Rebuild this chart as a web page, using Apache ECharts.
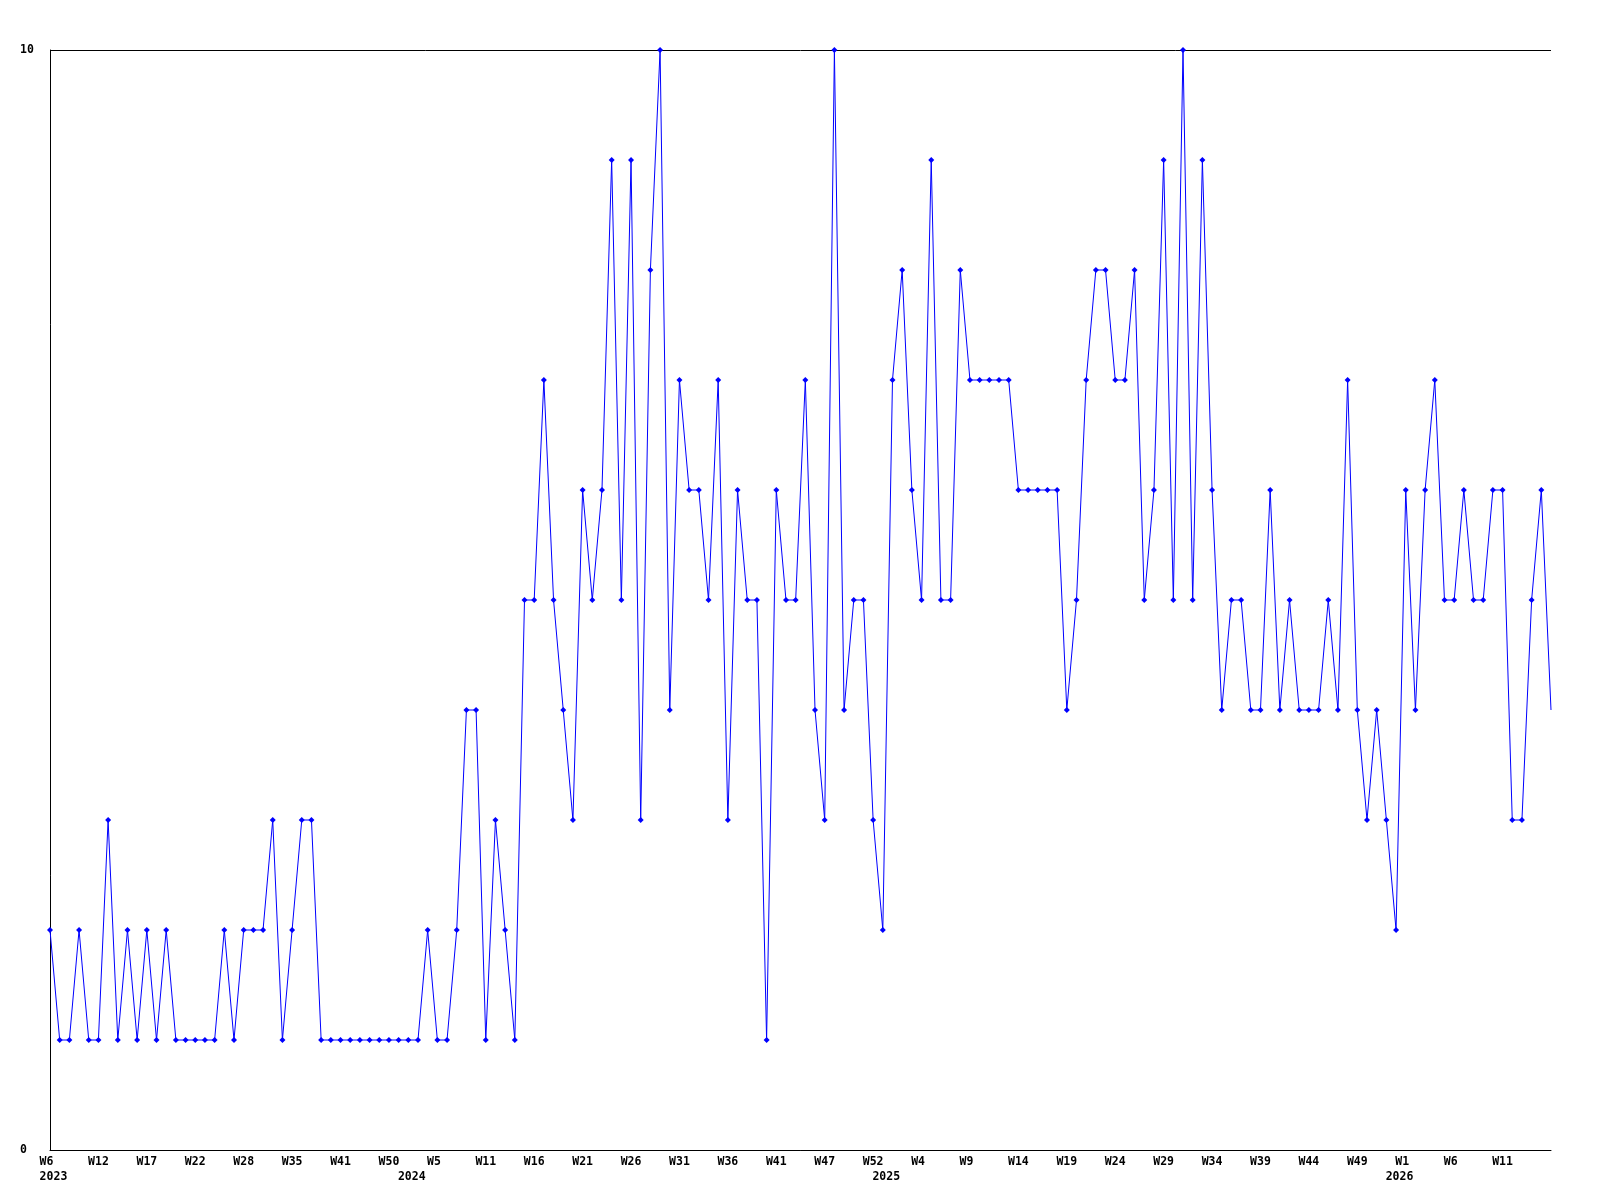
<!DOCTYPE html>
<html>
<head>
<meta charset="utf-8">
<script src="https://cdn.jsdelivr.net/npm/echarts@6/dist/echarts.min.js"></script>
<style>html,body{margin:0;padding:0;background:#fff}#c{width:1600px;height:1200px}</style>
</head>
<body>
<div id="c"></div>
<script>
// Categories (year-week)
const weeks = [
 '2023-W6','2023-W7','2023-W8','2023-W9','2023-W11','2023-W12','2023-W13','2023-W14','2023-W15','2023-W16',
 '2023-W17','2023-W18','2023-W19','2023-W20','2023-W21','2023-W22','2023-W23','2023-W24','2023-W25','2023-W27',
 '2023-W28','2023-W29','2023-W31','2023-W32','2023-W33','2023-W35','2023-W36','2023-W37','2023-W38','2023-W40',
 '2023-W41','2023-W43','2023-W45','2023-W47','2023-W48','2023-W50','2023-W51',
 '2024-W1','2024-W2','2024-W4','2024-W5','2024-W6','2024-W7','2024-W9','2024-W10','2024-W11','2024-W12',
 '2024-W13','2024-W14','2024-W15','2024-W16','2024-W17','2024-W18','2024-W19','2024-W20','2024-W21','2024-W22',
 '2024-W23','2024-W24','2024-W25','2024-W26','2024-W27','2024-W28','2024-W29','2024-W30','2024-W31','2024-W32',
 '2024-W33','2024-W34','2024-W35','2024-W36','2024-W37','2024-W38','2024-W39','2024-W40','2024-W41','2024-W42',
 '2024-W44','2024-W45','2024-W46','2024-W47','2024-W48','2024-W49','2024-W50','2024-W51','2024-W52',
 '2025-W0','2025-W1','2025-W2','2025-W3','2025-W4','2025-W5','2025-W6','2025-W7','2025-W8','2025-W9',
 '2025-W10','2025-W11','2025-W12','2025-W13','2025-W14','2025-W15','2025-W16','2025-W17','2025-W18','2025-W19',
 '2025-W20','2025-W21','2025-W22','2025-W23','2025-W24','2025-W25','2025-W26','2025-W27','2025-W28','2025-W29',
 '2025-W30','2025-W31','2025-W32','2025-W33','2025-W34','2025-W35','2025-W36','2025-W37','2025-W38','2025-W39',
 '2025-W40','2025-W41','2025-W42','2025-W43','2025-W44','2025-W45','2025-W46','2025-W47','2025-W48','2025-W49',
 '2025-W50','2025-W51','2025-W52',
 '2026-W0','2026-W1','2026-W2','2026-W3','2026-W4','2026-W5','2026-W6','2026-W7','2026-W8','2026-W9',
 '2026-W10','2026-W11','2026-W12','2026-W13','2026-W14','2026-W15','2026-W16'
];
// Series values
const values = [
 2,1,1,2,1,1,3,1,2,1, 2,1,2,1,1,1,1,1,2,1, 2,2,2,3,1,2,3,3,1,1,
 1,1,1,1,1,1,1,1,1,2, 1,1,2,4,4,1,3,2,1,5, 5,7,5,4,3,6,5,6,9,5,
 9,3,8,10,4,7,6,6,5,7, 3,6,5,5,1,6,5,5,7,4, 3,10,4,5,5,3,2,7,8,6,
 5,9,5,5,8,7,7,7,7,7, 6,6,6,6,6,4,5,7,8,8, 7,7,8,5,6,9,5,10,5,9,
 6,4,5,5,4,4,6,4,5,4, 4,4,5,4,7,4,3,4,3,2, 6,4,6,7,5,5,6,5,5,6,
 6,3,3,5,6,4
];
// Tick labels
const weekLabelStep = 5;
const yearLabelIndex = [0, 37, 86, 139];
const yearLabels = ['2023', '2024', '2025', '2026'];
const yTicks = [0, 10];

const font = '"DejaVu Sans Mono", "Liberation Mono", monospace';
const chart = echarts.init(document.getElementById('c'), null, {renderer: 'canvas'});
const seriesData = values.map((v, i) => i === values.length - 1 ? {value: v, symbol: 'none'} : v);

chart.setOption({
  animation: false,
  backgroundColor: '#ffffff',
  grid: {left: 50, right: 49, top: 50, bottom: 50, containLabel: false},
  xAxis: [
    {
      type: 'category', data: weeks, boundaryGap: false, position: 'bottom',
      axisLine: {show: true, lineStyle: {color: '#000', width: 1}},
      axisTick: {show: false},
      splitLine: {show: false},
      axisLabel: {
        interval: (i) => i % weekLabelStep === 0 && i < weeks.length - 1,
        formatter: (v) => { const w = v.split('-')[1]; return w.length < 3 ? w + ' ' : w; },
        color: '#000', fontFamily: font, fontWeight: 'bold', fontSize: 11.5, margin: 6, lineHeight: 12
      }
    },
    {
      type: 'category', data: weeks, boundaryGap: false, position: 'bottom',
      axisLine: {show: false}, axisTick: {show: false}, splitLine: {show: false},
      axisLabel: {
        interval: (i) => yearLabelIndex.indexOf(i) >= 0,
        formatter: (v, i) => { const k = yearLabelIndex.indexOf(i); return k >= 0 ? ' ' + yearLabels[k] : ''; },
        color: '#000', fontFamily: font, fontWeight: 'bold', fontSize: 11.5, margin: 21, lineHeight: 12
      }
    }
  ],
  yAxis: {
    type: 'value', min: yTicks[0], max: yTicks[1], interval: yTicks[1] - yTicks[0],
    axisLine: {show: true, lineStyle: {color: '#000', width: 1}},
    axisTick: {show: false},
    splitLine: {show: true, lineStyle: {color: '#000', width: 1}},
    axisLabel: {color: '#000', fontFamily: font, fontWeight: 'bold', fontSize: 11.5, margin: 30, align: 'left'}
  },
  series: [{
    type: 'line', xAxisIndex: 0, data: seriesData,
    showSymbol: true, showAllSymbol: true, symbol: 'diamond', symbolSize: 6,
    clip: false,
    lineStyle: {color: '#0000ff', width: 1},
    itemStyle: {color: '#0000ff'}
  }]
});
</script>
</body>
</html>
